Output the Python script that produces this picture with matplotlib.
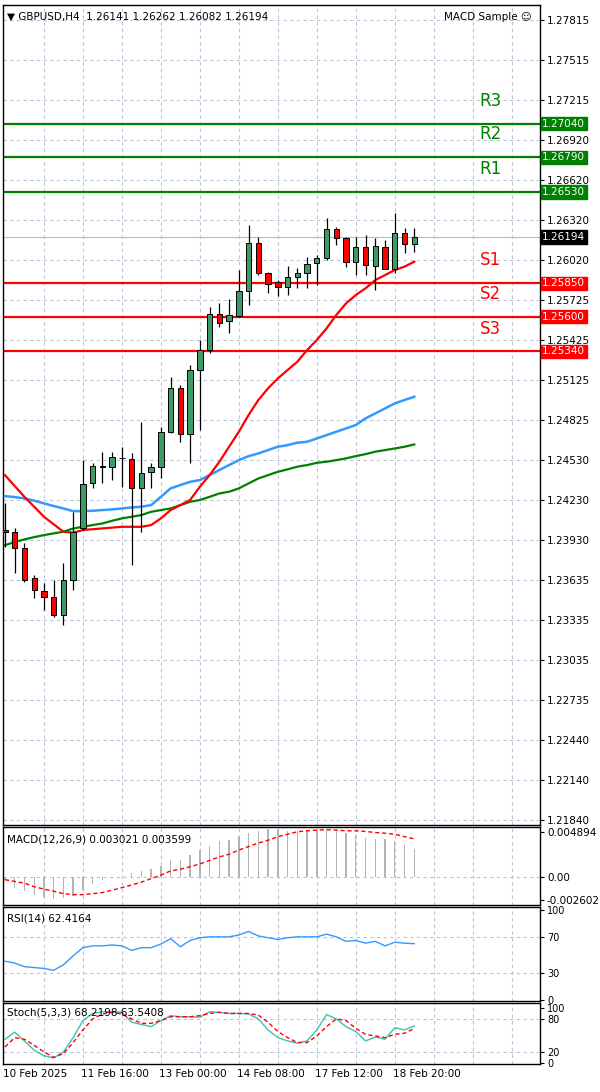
import matplotlib
matplotlib.use("Agg")
import matplotlib.pyplot as plt
import numpy as np

opens = [1.24005,1.23988,1.23869,1.23644,1.23552,1.23507,1.23371,1.23632,1.24018,1.24354,1.24479,1.24479,1.24541,1.24533,1.24317,1.24441,1.24479,1.24740,1.25064,1.24723,1.25201,1.25350,1.25619,1.25567,1.25604,1.25793,1.26147,1.25928,1.25861,1.25818,1.25893,1.25928,1.26002,1.26035,1.26254,1.26184,1.26010,1.26122,1.25978,1.26122,1.25953,1.26222,1.26141]
highs = [1.24205,1.24018,1.23906,1.23669,1.23607,1.23632,1.23756,1.24142,1.24528,1.24503,1.24591,1.24591,1.24628,1.24578,1.24815,1.24503,1.24777,1.25151,1.25089,1.25238,1.25425,1.25674,1.25699,1.25729,1.25948,1.26284,1.26197,1.25935,1.25873,1.25978,1.25960,1.26047,1.26060,1.26334,1.26271,1.26197,1.26197,1.26209,1.26184,1.26172,1.26371,1.26259,1.26262]
lows = [1.23881,1.23682,1.23620,1.23495,1.23408,1.23358,1.23296,1.23557,1.24005,1.24317,1.24354,1.24379,1.24329,1.23744,1.23993,1.24317,1.24391,1.24728,1.24665,1.24503,1.24752,1.25325,1.25524,1.25475,1.25599,1.25686,1.25910,1.25778,1.25753,1.25761,1.25811,1.25811,1.25836,1.26022,1.26135,1.25973,1.25910,1.25910,1.25798,1.25953,1.25923,1.26072,1.26082]
closes = [1.23988,1.23869,1.23632,1.23557,1.23507,1.23371,1.23632,1.23993,1.24349,1.24486,1.24486,1.24548,1.24545,1.24317,1.24429,1.24479,1.24740,1.25064,1.24723,1.25201,1.25350,1.25619,1.25554,1.25612,1.25793,1.26147,1.25928,1.25843,1.25818,1.25893,1.25928,1.25993,1.26035,1.26254,1.26184,1.26010,1.26122,1.25985,1.26127,1.25953,1.26222,1.26139,1.26194]

ma_red = [1.24416,1.24335,1.24254,1.24180,1.24105,1.24049,1.23993,1.23986,1.24006,1.24012,1.24018,1.24024,1.24030,1.24030,1.24030,1.24043,1.24093,1.24155,1.24192,1.24230,1.24329,1.24416,1.24516,1.24628,1.24740,1.24865,1.24977,1.25064,1.25138,1.25201,1.25263,1.25350,1.25425,1.25512,1.25612,1.25699,1.25761,1.25811,1.25873,1.25910,1.25948,1.25973,1.26010]
ma_blue = [1.24259,1.24252,1.24242,1.24225,1.24205,1.24185,1.24167,1.24147,1.24147,1.24150,1.24155,1.24160,1.24167,1.24175,1.24180,1.24192,1.24254,1.24317,1.24342,1.24366,1.24379,1.24416,1.24454,1.24491,1.24528,1.24558,1.24578,1.24603,1.24628,1.24640,1.24658,1.24665,1.24690,1.24715,1.24740,1.24765,1.24790,1.24840,1.24877,1.24914,1.24952,1.24977,1.25001]
ma_green = [1.23893,1.23916,1.23936,1.23953,1.23968,1.23981,1.23993,1.24018,1.24030,1.24043,1.24055,1.24075,1.24093,1.24105,1.24118,1.24142,1.24155,1.24167,1.24192,1.24217,1.24230,1.24254,1.24279,1.24292,1.24317,1.24354,1.24391,1.24416,1.24441,1.24459,1.24479,1.24491,1.24508,1.24516,1.24528,1.24541,1.24558,1.24573,1.24591,1.24603,1.24615,1.24628,1.24645]

macd_hist = [-0.00031,-0.00127,-0.00158,-0.00196,-0.00223,-0.00243,-0.00231,-0.00212,-0.00146,-0.00077,-0.00031,-0.00008,-0.00004,0.00046,0.00066,0.00085,0.00123,0.00189,0.00189,0.00239,0.00296,0.00343,0.00393,0.00412,0.00450,0.00489,0.00508,0.00527,0.00527,0.00508,0.00508,0.00508,0.00508,0.00520,0.00508,0.00481,0.00458,0.00431,0.00420,0.00420,0.00393,0.00354,0.00302]
macd_signal = [-0.00031,-0.00050,-0.00069,-0.00108,-0.00135,-0.00158,-0.00185,-0.00196,-0.00196,-0.00185,-0.00173,-0.00146,-0.00119,-0.00089,-0.00058,-0.00019,0.00019,0.00066,0.00085,0.00112,0.00143,0.00181,0.00220,0.00250,0.00296,0.00335,0.00373,0.00404,0.00443,0.00470,0.00497,0.00508,0.00516,0.00520,0.00516,0.00508,0.00508,0.00501,0.00489,0.00481,0.00470,0.00443,0.00420]
rsi = [43,41,37,36,35,33,39,49,58,60,60,61,60,55,58,58,62,68,59,66,69,70,70,70,72,76,71,69,67,69,70,70,70,73,70,65,66,63,65,60,64,63,62.4]
stoch_k = [44,57,41,24,14,10,21,47,78,91,94,94,93,75,71,67,78,87,85,85,84,94,93,91,91,90,81,61,47,41,37,41,61,89,81,67,58,41,48,44,65,61,68.2]
stoch_d = [30,47,44,33,21,11,18,38,61,81,90,93,90,81,73,73,78,85,85,85,87,91,93,91,91,91,88,75,58,47,38,38,50,67,81,78,64,53,50,47,53,55,63.5]

levels = {"R3": 1.27040, "R2": 1.26790, "R1": 1.26530, "S1": 1.25850, "S2": 1.25600, "S3": 1.25340}
price_ticks = [1.27815,1.27515,1.27215,1.26920,1.26620,1.26320,1.26020,1.25725,1.25425,1.25125,1.24825,1.24530,1.24230,1.23930,1.23635,1.23335,1.23035,1.22735,1.22440,1.22140,1.21840]
date_labels = ["10 Feb 2025", "11 Feb 16:00", "13 Feb 00:00", "14 Feb 08:00", "17 Feb 12:00", "18 Feb 20:00"]
current = 1.26194

plt.rcParams['font.family'] = ['DejaVu Sans']
W, H = 600, 1092
fig = plt.figure(figsize=(6, 10.92), dpi=100)
fig.patch.set_facecolor('white')

def axes_px(top, bottom, left=3, right=540):
    return fig.add_axes([left / W, 1 - bottom / H, (right - left) / W, (bottom - top) / H])

n = len(closes)
x = np.arange(n)
XL = (-0.2, 54.9)
grid_kw = dict(color='#b8c4d8', linestyle=(0, (3, 3)), linewidth=0.8)

def style(ax):
    ax.set_xlim(*XL)
    for s in ax.spines.values():
        s.set_color('black'); s.set_linewidth(1)
    ax.yaxis.tick_right()
    ax.tick_params(axis='y', length=3, labelsize=7.5, pad=2, colors='black')
    ax.tick_params(axis='x', length=0, labelbottom=False)
    for gx in range(4, 56, 4):
        ax.axvline(gx, zorder=0, **grid_kw)

# main
ax = axes_px(5, 825)
style(ax)
ax.set_ylim(1.21803, 1.27927)
ax.set_yticks(price_ticks)
ax.set_yticklabels([f"{p:.5f}" for p in price_ticks])
for p in price_ticks:
    ax.axhline(p, zorder=0, **grid_kw)
ax.axhline(current, color='#b0bccc', lw=0.8, zorder=1)
for name, v in levels.items():
    c = '#008000' if name.startswith('R') else '#ff0000'
    ax.axhline(v, color=c, lw=1.6, zorder=2)
    ax.text(49.8, v + 0.0017, name, color=c, fontsize=12, ha='center', va='center')
    ax.text(1.004, v, f"{v:.5f}", transform=ax.get_yaxis_transform(), fontsize=7.5,
            color='white', va='center', ha='left', zorder=5,
            bbox=dict(boxstyle='square,pad=0.15', fc=c, ec=c))
ax.text(1.004, current, f"{current:.5f}", transform=ax.get_yaxis_transform(), fontsize=7.5,
        color='white', va='center', ha='left', zorder=5,
        bbox=dict(boxstyle='square,pad=0.15', fc='black', ec='black'))
ax.plot(x, ma_green, color='#008000', lw=1.6, zorder=3)
ax.plot(x, ma_blue, color='#3399ff', lw=1.8, zorder=3)
ax.plot(x, ma_red, color='#ff0000', lw=1.6, zorder=3)
o = np.array(opens); c_ = np.array(closes)
up = c_ >= o
ax.vlines(x, lows, highs, color='black', lw=0.9, zorder=4)
ax.bar(x[up], (c_ - o)[up], bottom=o[up], width=0.55, color='#3c9a64', edgecolor='black', lw=0.7, zorder=5)
ax.bar(x[~up], (c_ - o)[~up], bottom=o[~up], width=0.55, color='#ff0000', edgecolor='black', lw=0.7, zorder=5)
ax.text(0.008, 0.992, "▼ GBPUSD,H4  1.26141 1.26262 1.26082 1.26194", transform=ax.transAxes,
        fontsize=7.5, va='top', ha='left')
ax.text(0.985, 0.992, "MACD Sample ☺", transform=ax.transAxes, fontsize=7.5, va='top', ha='right')

# MACD
am = axes_px(827, 905)
style(am)
am.set_ylim(-0.0031, 0.0055)
am.set_yticks([0.004894, 0.0, -0.002602])
am.set_yticklabels(["0.004894", "0.00", "-0.002602"])
am.axhline(0, zorder=0, **grid_kw)
am.bar(x, macd_hist, width=0.14, color='#b4b4b4', zorder=2)
am.plot(x, macd_signal, color='#ff0000', lw=1, ls=(0, (3, 2)), zorder=3)
am.text(0.008, 0.9, "MACD(12,26,9) 0.003021 0.003599", transform=am.transAxes, fontsize=7.5, va='top')

# RSI
ar = axes_px(907, 1001)
style(ar)
ar.set_ylim(-1, 103)
ar.set_yticks([100, 70, 30, 0])
ar.tick_params(axis='y', labelsize=7)
for v in (70, 30):
    ar.axhline(v, zorder=0, **grid_kw)
ar.plot(x, rsi, color='#3399ff', lw=1)
ar.text(0.008, 0.93, "RSI(14) 62.4164", transform=ar.transAxes, fontsize=7.5, va='top')

# Stoch
ast = axes_px(1003, 1064)
style(ast)
ast.set_ylim(-1, 110)
ast.set_yticks([100, 80, 20, 0])
ast.tick_params(axis='y', labelsize=7)
for v in (80, 20):
    ast.axhline(v, zorder=0, **grid_kw)
ast.plot(x, stoch_k, color='#40c0b0', lw=1, zorder=3)
ast.plot(x, stoch_d, color='#ff0000', lw=1, ls=(0, (3, 2)), zorder=3)
ast.text(0.008, 0.93, "Stoch(5,3,3) 68.2198 63.5408", transform=ast.transAxes, fontsize=7.5, va='top')
for i, lab in enumerate(date_labels):
    ast.text(i * 8 - 0.15, -0.08, lab, transform=ast.get_xaxis_transform(), fontsize=7.5, va='top', ha='left')

fig.savefig("out.png", dpi=100, facecolor='white')
